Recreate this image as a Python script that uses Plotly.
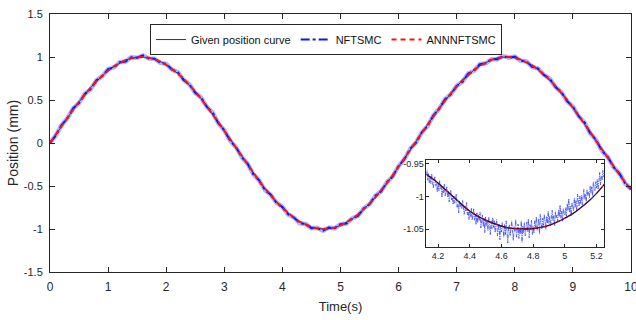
import plotly.graph_objects as go

# ---------------- data ----------------
t_main = [round(0.1 * i, 1) for i in range(101)]
given_main = [0.0, 0.0998, 0.1987, 0.2955, 0.3894, 0.4794, 0.5646, 0.6442, 0.7174, 0.7833,
              0.8415, 0.8912, 0.9320, 0.9636, 0.9854, 0.9975, 0.9996, 0.9917, 0.9738, 0.9463,
              0.9093, 0.8632, 0.8085, 0.7457, 0.6755, 0.5985, 0.5155, 0.4274, 0.3350, 0.2392,
              0.1411, 0.0416, -0.0584, -0.1577, -0.2555, -0.3508, -0.4425, -0.5298, -0.6119, -0.6878,
              -0.7568, -0.8183, -0.8716, -0.9162, -0.9516, -0.9775, -0.9937, -0.9999, -0.9962, -0.9825,
              -0.9589, -0.9258, -0.8835, -0.8323, -0.7728, -0.7055, -0.6313, -0.5507, -0.4646, -0.3739,
              -0.2794, -0.1822, -0.0831, 0.0168, 0.1165, 0.2151, 0.3115, 0.4048, 0.4941, 0.5784,
              0.6570, 0.7290, 0.7937, 0.8504, 0.8987, 0.9380, 0.9679, 0.9882, 0.9985, 0.9989,
              0.9894, 0.9699, 0.9407, 0.9022, 0.8546, 0.7985, 0.7344, 0.6630, 0.5849, 0.5010,
              0.4121, 0.3191, 0.2229, 0.1245, 0.0248, -0.0752, -0.1743, -0.2718, -0.3665, -0.4575,
              -0.5440]
nftsmc_main = [0.000, 0.088, 0.209, 0.288, 0.404, 0.465, 0.571, 0.626, 0.729, 0.778,
               0.858, 0.880, 0.940, 0.947, 0.998, 0.991, 1.019, 0.982, 0.981, 0.931,
               0.920, 0.854, 0.823, 0.733, 0.681, 0.583, 0.528, 0.420, 0.352, 0.227,
               0.149, 0.027, -0.048, -0.164, -0.240, -0.364, -0.434, -0.547, -0.601, -0.696,
               -0.743, -0.830, -0.866, -0.934, -0.942, -0.992, -0.987, -1.020, -0.984, -0.992,
               -0.944, -0.937, -0.876, -0.848, -0.760, -0.712, -0.614, -0.561, -0.456, -0.389,
               -0.267, -0.189, -0.067, 0.004, 0.124, 0.198, 0.323, 0.399, 0.509, 0.566,
               0.664, 0.713, 0.807, 0.841, 0.917, 0.927, 0.974, 0.974, 1.011, 0.991,
               1.005, 0.957, 0.950, 0.885, 0.866, 0.792, 0.748, 0.651, 0.593, 0.486,
               0.422, 0.312, 0.239, 0.112, 0.034, -0.091, -0.162, -0.280, -0.353, -0.469,
               -0.538]
ann_main = given_main

inset_t = [4.10, 4.15, 4.20, 4.25, 4.30, 4.35, 4.40, 4.45, 4.50, 4.55, 4.60, 4.65,
           4.70, 4.75, 4.80, 4.85, 4.90, 4.95, 5.00, 5.05, 5.10, 5.15, 5.20, 5.25]
inset_given = [-0.962, -0.970, -0.979, -0.990, -1.001, -1.012, -1.022, -1.030, -1.036, -1.041,
               -1.045, -1.048, -1.049, -1.0495, -1.049, -1.047, -1.044, -1.039, -1.033, -1.026,
               -1.017, -1.007, -0.995, -0.981]
inset_ann = inset_given
inset_nft_t = [round(4.125 + 0.005 * i, 3) for i in range(225)]
inset_nft = [
    -0.967, -0.959, -0.975, -0.965, -0.979,
    -0.969, -0.980, -0.965, -0.978, -0.987, -0.976, -0.969, -0.984, -0.980, -0.993,
    -0.979, -0.991, -0.975, -0.988, -0.985, -1.001, -0.984, -0.994, -0.981, -0.999,
    -0.994, -0.985, -1.001, -0.992, -1.008, -0.999, -0.990, -1.005, -1.000, -1.012,
    -0.999, -1.010, -1.005, -0.996, -1.016, -1.011, -1.025, -1.006, -1.016, -1.012,
    -1.019, -1.006, -1.017, -1.027, -1.014, -1.022, -1.009, -1.028, -1.021, -1.035,
    -1.023, -1.031, -1.018, -1.036, -1.029, -1.018, -1.036, -1.027, -1.043, -1.025,
    -1.040, -1.027, -1.037, -1.024, -1.048, -1.035, -1.028, -1.046, -1.033, -1.055,
    -1.031, -1.045, -1.038, -1.052, -1.031, -1.043, -1.058, -1.037, -1.049, -1.032,
    -1.047, -1.037, -1.055, -1.044, -1.035, -1.060, -1.048, -1.041, -1.066, -1.044,
    -1.054, -1.039, -1.049, -1.062, -1.042, -1.058, -1.037, -1.053, -1.071, -1.046,
    -1.043, -1.060, -1.050, -1.037, -1.055, -1.067, -1.046, -1.053, -1.035, -1.062,
    -1.052, -1.042, -1.064, -1.047, -1.057, -1.037, -1.070, -1.045, -1.055, -1.040,
    -1.060, -1.046, -1.039, -1.054, -1.034, -1.063, -1.043, -1.051, -1.036, -1.058,
    -1.045, -1.056, -1.037, -1.047, -1.031, -1.052, -1.040, -1.034, -1.057, -1.027,
    -1.041, -1.050, -1.033, -1.044, -1.027, -1.038, -1.050, -1.030, -1.041, -1.022,
    -1.041, -1.030, -1.045, -1.034, -1.021, -1.037, -1.029, -1.045, -1.023, -1.033,
    -1.028, -1.037, -1.020, -1.031, -1.013, -1.033, -1.022, -1.038, -1.018, -1.026,
    -1.029, -1.017, -1.030, -1.011, -1.021, -1.003, -1.024, -1.015, -1.029, -1.009,
    -1.016, -1.022, -1.002, -1.016, -1.006, -1.023, -0.996, -1.009, -1.015, -0.999,
    -1.011, -0.998, -1.013, -1.001, -0.989, -1.004, -0.996, -1.009, -0.989, -0.998,
    -0.993, -1.002, -0.984, -0.994, -0.985, -0.999, -0.977, -0.988, -0.991, -0.977,
    -0.987, -0.974, -0.989, -0.976, -0.963, -0.982, -0.969, -0.975, -0.960, -0.970,
]

series_names = ["Given position curve", "NFTSMC", "ANNNFTSMC"]

x_ticks = [0, 1, 2, 3, 4, 5, 6, 7, 8, 9, 10]
x_ticktext = ["0", "1", "2", "3", "4", "5", "6", "7", "8", "9", "10"]
y_ticks = [1.5, 1, 0.5, 0, -0.5, -1, -1.5]
y_ticktext = ["1.5", "1", "0.5", "0", "-0.5", "-1", "-1.5"]
ix_ticks = [4.2, 4.4, 4.6, 4.8, 5.0, 5.2]
ix_ticktext = ["4.2", "4.4", "4.6", "4.8", "5", "5.2"]
iy_ticks = [-0.95, -1.0, -1.05]
iy_ticktext = ["-0.95", "-1", "-1.05"]

# ---------------- figure ----------------
BLUE = "#0a14ff"
RED = "#ff1010"
TICKC = "#262626"
SANS = "Liberation Sans Narrow, Arial Narrow, Liberation Sans, Arial, sans-serif"

fig = go.Figure()

# main plot
fig.add_trace(go.Scatter(x=t_main, y=given_main, mode="lines", showlegend=False,
                         line=dict(color="black", width=1), hoverinfo="skip"))
fig.add_trace(go.Scatter(x=t_main, y=nftsmc_main, mode="lines", showlegend=False,
                         line=dict(color="rgba(90,110,255,0.5)", width=4.5), hoverinfo="skip"))
fig.add_trace(go.Scatter(x=t_main, y=nftsmc_main, mode="lines", showlegend=False,
                         line=dict(color=BLUE, width=2, dash="dashdot"), hoverinfo="skip"))
fig.add_trace(go.Scatter(x=t_main, y=ann_main, mode="lines", showlegend=False,
                         line=dict(color=RED, width=2, dash="6px,3px"), hoverinfo="skip"))

# legend-only entries
fig.add_trace(go.Scatter(x=[None], y=[None], mode="lines", name=series_names[0],
                         line=dict(color="#333333", width=1)))
fig.add_trace(go.Scatter(x=[None], y=[None], mode="lines", name=series_names[1],
                         line=dict(color=BLUE, width=2, dash="dashdot")))
fig.add_trace(go.Scatter(x=[None], y=[None], mode="lines", name=series_names[2],
                         line=dict(color=RED, width=2, dash="5px,4px")))

# inset
fig.add_trace(go.Scatter(x=inset_nft_t, y=inset_nft, mode="lines", showlegend=False,
                         xaxis="x2", yaxis="y2",
                         line=dict(color="rgba(40,60,255,0.75)", width=1, dash="4px,1px,1px,1px"),
                         hoverinfo="skip"))
fig.add_trace(go.Scatter(x=inset_t, y=inset_given, mode="lines", showlegend=False,
                         xaxis="x2", yaxis="y2", line_shape="spline",
                         line=dict(color="#200010", width=1.3), hoverinfo="skip"))
fig.add_trace(go.Scatter(x=inset_t, y=inset_ann, mode="lines", showlegend=False,
                         xaxis="x2", yaxis="y2", line_shape="spline",
                         line=dict(color="#c00020", width=1, dash="3px,2px"), hoverinfo="skip"))

axis_common = dict(showgrid=False, zeroline=False, showline=True, linecolor="#262626",
                   linewidth=1, mirror="ticks", ticks="inside", tickcolor="#262626",
                   automargin=False)

fig.update_layout(
    width=636, height=320,
    margin=dict(l=50, r=5, t=14, b=48),
    paper_bgcolor="white", plot_bgcolor="white",
    showlegend=True,
    legend=dict(orientation="h", x=0.475, y=0.961, xanchor="center", yanchor="top",
                bgcolor="white", bordercolor="#262626", borderwidth=1,
                font=dict(family=SANS, size=11, color="#111111"),
                itemwidth=30, tracegroupgap=0, itemsizing="trace"),
    xaxis=dict(**axis_common, range=[0, 10], tickvals=x_ticks, ticktext=x_ticktext,
               ticklen=5, ticklabeloverflow="allow", ticklabelstandoff=4,
               tickfont=dict(family=SANS, size=12, color=TICKC),
               title=dict(text="Time(s)", font=dict(family=SANS, size=13, color=TICKC), standoff=8),
               domain=[0, 1], anchor="y"),
    yaxis=dict(**axis_common, range=[-1.5, 1.5], tickvals=y_ticks, ticktext=y_ticktext,
               ticklen=5, ticklabelstandoff=4,
               tickfont=dict(family=SANS, size=11, color=TICKC),
               title=dict(text="Position (mm)", font=dict(family=SANS, size=14, color=TICKC), standoff=1),
               domain=[0, 1], anchor="x"),
    xaxis2=dict(**axis_common, range=[4.127, 5.247], tickvals=ix_ticks, ticktext=ix_ticktext,
                ticklen=3, tickfont=dict(family=SANS, size=9, color=TICKC),
                domain=[0.648, 0.9535], anchor="y2"),
    yaxis2=dict(**axis_common, range=[-1.0766, -0.944], tickvals=iy_ticks, ticktext=iy_ticktext,
                ticklen=3, tickfont=dict(family=SANS, size=9, color=TICKC),
                domain=[0.098, 0.434], anchor="x2"),
)

fig.write_html("out.html", config={"displayModeBar": False},
               post_script="document.body.style.margin='0';document.body.style.padding='0';")
